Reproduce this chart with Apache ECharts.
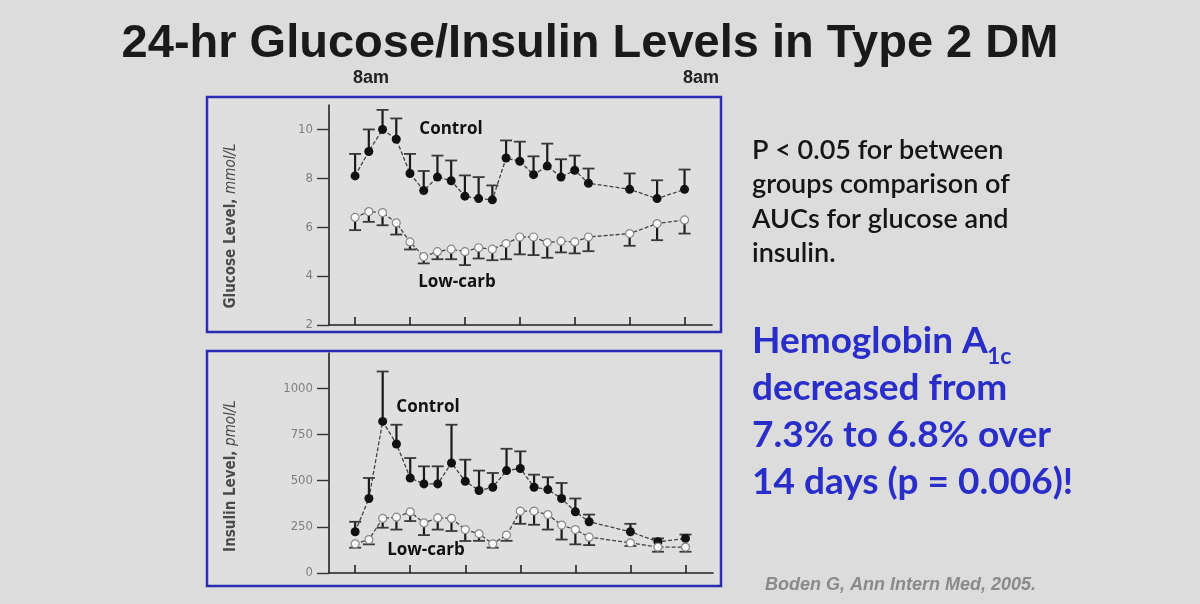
<!DOCTYPE html>
<html>
<head>
<meta charset="utf-8">
<script src="https://cdn.jsdelivr.net/npm/echarts@6/dist/echarts.min.js"></script>
<style>
  html, body { margin: 0; padding: 0; background: #dcdcdc; }
  #main { width: 1200px; height: 604px; }
</style>
</head>
<body>
<div id="main"></div>
<script>
  // hours after 8am
  var hours = [0, 1, 2, 3, 4, 5, 6, 7, 8, 9, 10, 11, 12, 13, 14, 15, 16, 17, 20, 22, 24];
  var hourTicks = [0, 4, 8, 12, 16, 20, 24];

  // glucose, mmol/L
  var glucoseControl = [8.1, 9.1, 10.0, 9.6, 8.2, 7.5, 8.05, 7.9, 7.27, 7.17, 7.12, 8.83, 8.7, 8.15, 8.5, 8.05, 8.33, 7.8, 7.55, 7.17, 7.55];
  var glucoseControlTop = [9.0, 10.0, 10.8, 10.45, 9.0, 8.3, 8.93, 8.73, 8.12, 8.05, 7.71, 9.55, 9.5, 8.9, 9.42, 8.78, 8.93, 8.4, 8.2, 7.92, 8.36];
  var glucoseLow = [6.4, 6.64, 6.6, 6.18, 5.4, 4.8, 5.0, 5.1, 5.0, 5.16, 5.1, 5.33, 5.6, 5.6, 5.37, 5.43, 5.4, 5.6, 5.74, 6.15, 6.3];
  var glucoseLowBottom = [5.88, 6.22, 6.08, 5.7, 5.09, 4.52, 4.69, 4.69, 4.45, 4.72, 4.65, 4.69, 4.89, 4.86, 4.75, 4.97, 4.93, 5.02, 5.24, 5.47, 5.74];
  var glucoseTicks = [2, 4, 6, 8, 10];

  // insulin, pmol/L
  var insulinControl = [223, 403, 820, 698, 514, 482, 482, 595, 496, 446, 464, 554, 565, 464, 451, 403, 331, 277, 223, 169, 187];
  var insulinControlTop = [277, 514, 1090, 802, 622, 577, 577, 802, 613, 554, 541, 672, 658, 532, 518, 487, 403, 316, 266, 187, 208];
  var insulinLow = [158, 181, 295, 302, 331, 271, 298, 295, 235, 212, 158, 205, 335, 335, 316, 259, 235, 194, 163, 140, 140];
  var insulinLowBottom = [137, 155, 245, 235, 281, 205, 235, 227, 173, 174, 137, 174, 266, 261, 235, 181, 155, 151, 146, 115, 115];
  var insulinTicks = [0, 250, 500, 750, 1000];

  function pairs(xs, a, b) {
    return xs.map(function (x, i) { return [x, a[i], b[i]]; });
  }

  function errorBar(params, api) {
    var p0 = api.coord([api.value(0), api.value(1)]);
    var p1 = api.coord([api.value(0), api.value(2)]);
    return {
      type: 'group',
      children: [
        { type: 'line', shape: { x1: p0[0], y1: p0[1], x2: p1[0], y2: p1[1] }, style: { stroke: '#1a1a1a', lineWidth: 2.2 } },
        { type: 'line', shape: { x1: p1[0] - 6, y1: p1[1], x2: p1[0] + 6, y2: p1[1] }, style: { stroke: '#3a3a3a', lineWidth: 1.8 } }
      ]
    };
  }

  var tickFont = { color: '#808080', fontSize: 13, fontFamily: 'Liberation Sans Narrow, DejaVu Sans Condensed, sans-serif', margin: 16 };

  function xAxisFor(grid) {
    return {
      type: 'value', gridIndex: grid, min: -1.9, max: 26,
      axisLine: { onZero: false, lineStyle: { color: '#222', width: 1.6 } },
      axisTick: { inside: true, length: 8, customValues: hourTicks, lineStyle: { color: '#222', width: 1.6 } },
      axisLabel: { show: false },
      splitLine: { show: false }
    };
  }

  function yAxisFor(grid, min, max, ticks) {
    return {
      type: 'value', gridIndex: grid, min: min, max: max,
      axisLine: { show: true, onZero: false, lineStyle: { color: '#222', width: 1.6 } },
      axisTick: { show: true, length: 12, customValues: ticks, lineStyle: { color: '#333', width: 1.4 } },
      axisLabel: Object.assign({ customValues: ticks, formatter: function (v) { return String(v); } }, tickFont),
      splitLine: { show: false }
    };
  }

  var lineCommon = {
    type: 'line', symbolSize: 9, z: 3,
    lineStyle: { color: '#444', width: 1.3, type: [4, 2] }
  };

  var labelFont = 'Open Sans, Lato, sans-serif';
  var nameRich = {
    a: { font: 'bold 15px Liberation Sans Narrow, DejaVu Sans Condensed, sans-serif', fill: '#4a4a4a' },
    b: { font: 'italic 15px Liberation Sans Narrow, DejaVu Sans Condensed, sans-serif', fill: '#4a4a4a' }
  };

  var option = {
    backgroundColor: '#dcdcdc',
    animation: false,
    grid: [
      { left: 329, top: 105, right: 488, bottom: 279 },
      { left: 329, top: 353, right: 487, bottom: 31 }
    ],
    xAxis: [xAxisFor(0), xAxisFor(1)],
    yAxis: [yAxisFor(0, 2, 11, glucoseTicks), yAxisFor(1, 0, 1190, insulinTicks)],
    graphic: [
      { type: 'rect', shape: { x: 207, y: 97, width: 514, height: 235 }, style: { fill: '#dfdfdf', stroke: '#2b2bb4', lineWidth: 2.5 }, z: -10 },
      { type: 'rect', shape: { x: 207, y: 351, width: 514, height: 235 }, style: { fill: '#dfdfdf', stroke: '#2b2bb4', lineWidth: 2.5 }, z: -10 },
      { type: 'text', x: 590, y: 44, style: { text: '24-hr Glucose/Insulin Levels in Type 2 DM', font: 'bold 47px Liberation Sans, Arial, sans-serif', fill: '#1a1a1a', align: 'center', verticalAlign: 'middle' } },
      { type: 'text', x: 371, y: 78, style: { text: '8am', font: 'bold 18px Liberation Sans, Arial, sans-serif', fill: '#222', align: 'center', verticalAlign: 'middle' } },
      { type: 'text', x: 701, y: 78, style: { text: '8am', font: 'bold 18px Liberation Sans, Arial, sans-serif', fill: '#222', align: 'center', verticalAlign: 'middle' } },
      { type: 'text', x: 231, y: 226, rotation: Math.PI / 2, style: { text: '{a|Glucose Level, }{b|mmol/L}', align: 'center', verticalAlign: 'middle', rich: nameRich } },
      { type: 'text', x: 231, y: 476, rotation: Math.PI / 2, style: { text: '{a|Insulin Level, }{b|pmol/L}', align: 'center', verticalAlign: 'middle', rich: nameRich } },
      { type: 'text', x: 451, y: 129, style: { text: 'Control', font: 'bold 17px ' + labelFont, fill: '#111', align: 'center', verticalAlign: 'middle' } },
      { type: 'text', x: 457, y: 282, style: { text: 'Low-carb', font: 'bold 17px ' + labelFont, fill: '#111', align: 'center', verticalAlign: 'middle' } },
      { type: 'text', x: 428, y: 407, style: { text: 'Control', font: 'bold 17px ' + labelFont, fill: '#111', align: 'center', verticalAlign: 'middle' } },
      { type: 'text', x: 426, y: 550, style: { text: 'Low-carb', font: 'bold 17px ' + labelFont, fill: '#111', align: 'center', verticalAlign: 'middle' } },
      { type: 'text', x: 752, y: 133, style: { text: 'P < 0.05 for between\ngroups comparison of\nAUCs for glucose and\ninsulin.', font: '600 27px Lato, Open Sans, sans-serif', lineHeight: 34.5, fill: '#151515' } },
      { type: 'text', x: 752, y: 318, style: { text: 'Hemoglobin A\ndecreased from\n7.3% to 6.8% over\n14 days (p = 0.006)!', font: 'bold 37px Lato, Open Sans, sans-serif', lineHeight: 47, fill: '#2a2ec8' } },
      { type: 'text', x: 987, y: 357, style: { text: '1c', font: 'bold 23px Lato, Open Sans, sans-serif', fill: '#2a2ec8', verticalAlign: 'middle' } },
      { type: 'text', x: 765, y: 585, style: { text: 'Boden G, Ann Intern Med, 2005.', font: 'italic bold 18px Liberation Sans, Arial, sans-serif', fill: '#8a8a8a', verticalAlign: 'middle' } }
    ],
    series: [
      { type: 'custom', xAxisIndex: 0, yAxisIndex: 0, z: 2, renderItem: errorBar, data: pairs(hours, glucoseControl, glucoseControlTop) },
      { type: 'custom', xAxisIndex: 0, yAxisIndex: 0, z: 2, renderItem: errorBar, data: pairs(hours, glucoseLow, glucoseLowBottom) },
      { type: 'custom', xAxisIndex: 1, yAxisIndex: 1, z: 2, renderItem: errorBar, data: pairs(hours, insulinControl, insulinControlTop) },
      { type: 'custom', xAxisIndex: 1, yAxisIndex: 1, z: 2, renderItem: errorBar, data: pairs(hours, insulinLow, insulinLowBottom) },
      Object.assign({}, lineCommon, { name: 'Control', xAxisIndex: 0, yAxisIndex: 0, symbol: 'circle', itemStyle: { color: '#111' },
        data: hours.map(function (h, i) { return [h, glucoseControl[i]]; }) }),
      Object.assign({}, lineCommon, { name: 'Low-carb', xAxisIndex: 0, yAxisIndex: 0, symbol: 'circle', symbolSize: 8, itemStyle: { color: '#fafafa', borderColor: '#888', borderWidth: 1.2 },
        data: hours.map(function (h, i) { return [h, glucoseLow[i]]; }) }),
      Object.assign({}, lineCommon, { name: 'Control', xAxisIndex: 1, yAxisIndex: 1, symbol: 'circle', itemStyle: { color: '#111' },
        data: hours.map(function (h, i) { return [h, insulinControl[i]]; }) }),
      Object.assign({}, lineCommon, { name: 'Low-carb', xAxisIndex: 1, yAxisIndex: 1, symbol: 'circle', symbolSize: 8, itemStyle: { color: '#fafafa', borderColor: '#888', borderWidth: 1.2 },
        data: hours.map(function (h, i) { return [h, insulinLow[i]]; }) })
    ]
  };

  var myChart = echarts.init(document.getElementById('main'));
  myChart.setOption(option);
</script>
</body>
</html>
